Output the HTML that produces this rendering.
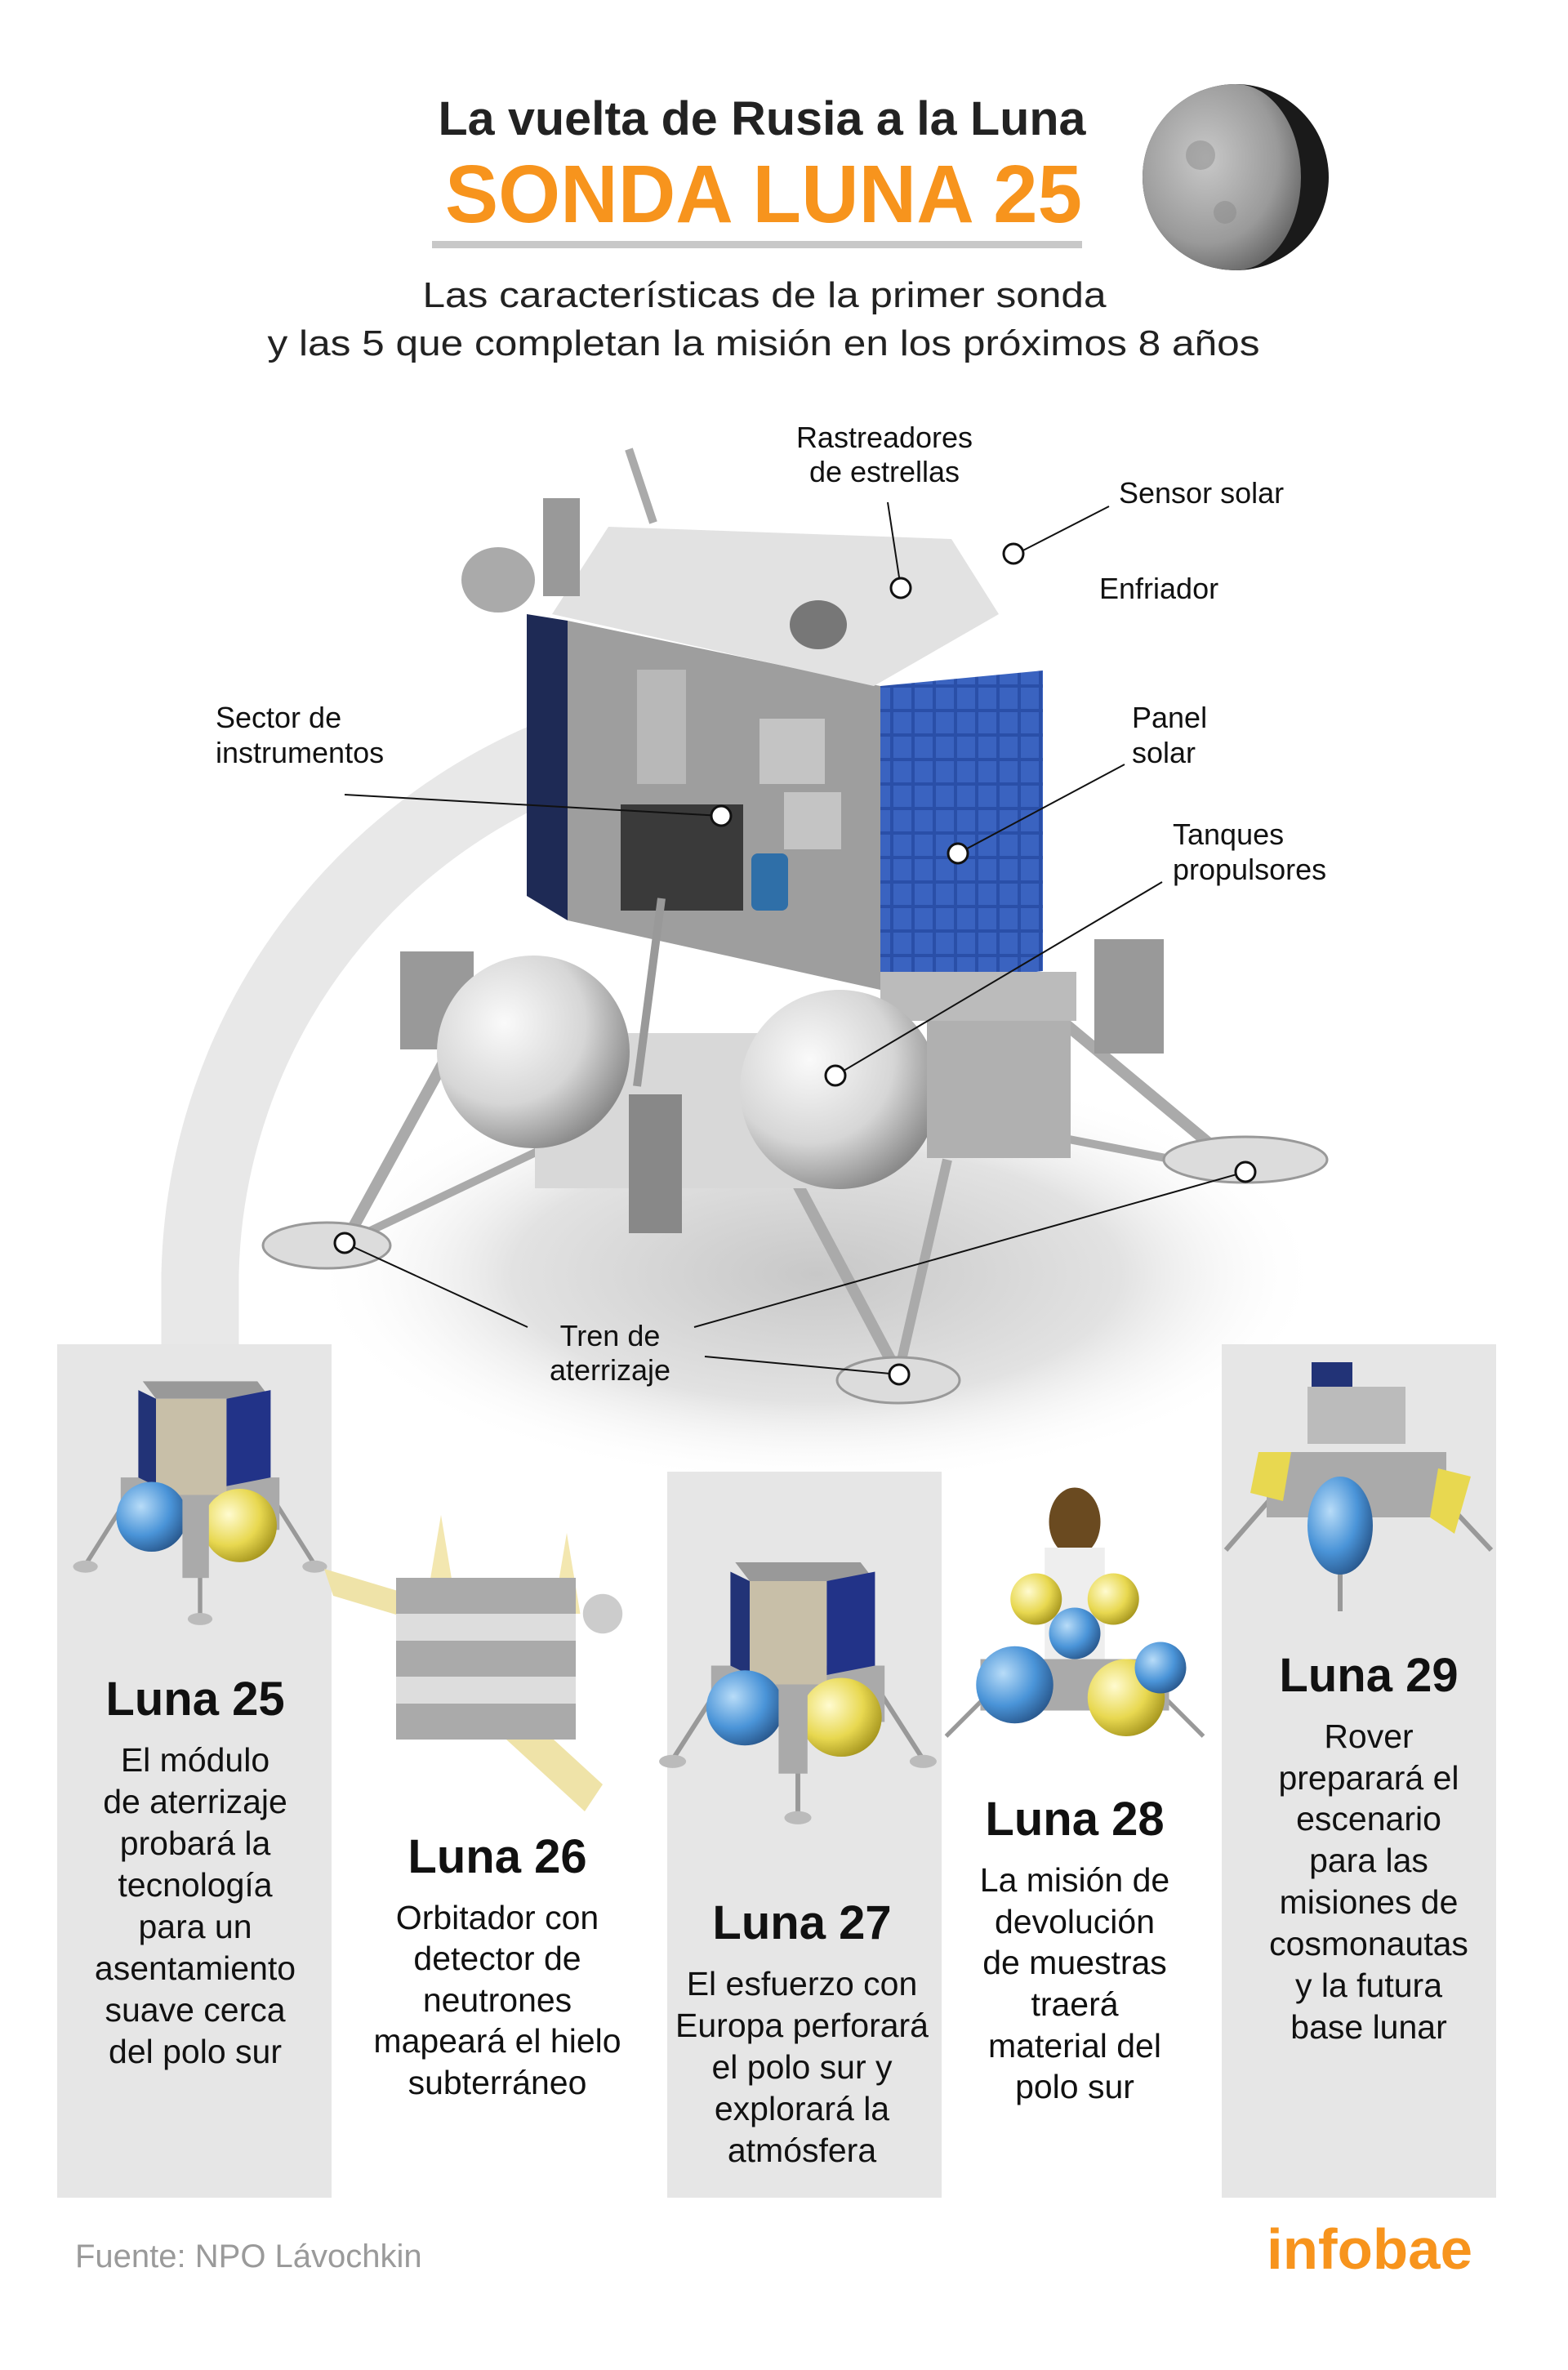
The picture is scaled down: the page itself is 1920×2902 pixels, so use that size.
<!DOCTYPE html>
<html><head><meta charset="utf-8"><style>
html,body{margin:0;padding:0;background:#fff}
svg{display:block}
text{font-family:"Liberation Sans",sans-serif}
</style></head><body>
<svg width="1920" height="2902" viewBox="0 0 1920 2902" xmlns="http://www.w3.org/2000/svg">
<defs>
<radialGradient id="shadow" cx="50%" cy="50%" r="50%">
<stop offset="0" stop-color="#c8c8c8"/><stop offset="0.6" stop-color="#e2e2e2"/><stop offset="1" stop-color="#fff" stop-opacity="0"/></radialGradient>
<radialGradient id="sph" cx="35%" cy="35%" r="70%"><stop offset="0" stop-color="#fafafa"/><stop offset="0.6" stop-color="#d6d6d6"/><stop offset="1" stop-color="#8a8a8a"/></radialGradient>
<radialGradient id="bsph" cx="35%" cy="35%" r="70%"><stop offset="0" stop-color="#b8dcf8"/><stop offset="0.6" stop-color="#4a94d8"/><stop offset="1" stop-color="#2a5a90"/></radialGradient>
<radialGradient id="ysph" cx="35%" cy="35%" r="70%"><stop offset="0" stop-color="#fffbd0"/><stop offset="0.6" stop-color="#e8d850"/><stop offset="1" stop-color="#a89820"/></radialGradient>
<radialGradient id="moon" cx="40%" cy="40%" r="65%"><stop offset="0" stop-color="#c8c8c8"/><stop offset="0.7" stop-color="#9a9a9a"/><stop offset="1" stop-color="#6a6a6a"/></radialGradient>
<linearGradient id="arcfade" x1="0" y1="0" x2="1" y2="0"><stop offset="0" stop-color="#e6e6e6"/><stop offset="1" stop-color="#eeeeee"/></linearGradient>
<pattern id="cells" width="26" height="30" patternUnits="userSpaceOnUse"><rect width="26" height="30" fill="#2a4fa8"/><rect x="2" y="2" width="22" height="26" fill="#3a63c0"/></pattern>
<g id="mini">
 <line x1="20" y1="230" x2="70" y2="150" stroke="#999" stroke-width="5"/>
 <line x1="280" y1="230" x2="230" y2="150" stroke="#999" stroke-width="5"/>
 <line x1="150" y1="290" x2="150" y2="200" stroke="#999" stroke-width="5"/>
 <ellipse cx="20" cy="232" rx="14" ry="7" fill="#bbb"/><ellipse cx="280" cy="232" rx="14" ry="7" fill="#bbb"/><ellipse cx="150" cy="292" rx="14" ry="7" fill="#bbb"/>
 <rect x="60" y="130" width="180" height="60" fill="#aaa"/>
 <polygon points="85,20 215,20 230,40 100,40" fill="#999"/>
 <rect x="100" y="40" width="80" height="110" fill="#c8bfa8"/>
 <polygon points="80,30 100,40 100,140 80,130" fill="#223377"/>
 <polygon points="180,40 230,30 230,130 180,140" fill="#223388"/>
 <circle cx="95" cy="175" r="40" fill="url(#bsph)"/>
 <circle cx="195" cy="185" r="42" fill="url(#ysph)"/>
 <rect x="130" y="150" width="30" height="95" fill="#aaa"/>
</g>
</defs>

<!-- arc (left part only) -->
<path d="M 245 1646 L 245 1560 A 700 700 0 0 1 760 900" fill="none" stroke="#e8e8e8" stroke-width="95"/>
<ellipse cx="1000" cy="1560" rx="620" ry="260" fill="url(#shadow)"/>

<!-- panels -->
<rect x="70" y="1646" width="336" height="1045" fill="#e6e6e6"/>
<rect x="817" y="1802" width="336" height="889" fill="#e6e6e6"/>
<rect x="1496" y="1646" width="336" height="1045" fill="#e6e6e6"/>

<!-- title -->
<text x="933" y="165" text-anchor="middle" font-size="58" font-weight="bold" fill="#222" textLength="793" lengthAdjust="spacingAndGlyphs">La vuelta de Rusia a la Luna</text>
<text x="935" y="272" text-anchor="middle" font-size="100" font-weight="bold" fill="#f7941d" textLength="780" lengthAdjust="spacingAndGlyphs">SONDA LUNA 25</text>
<rect x="529" y="295" width="796" height="9" fill="#c8c8c8"/>
<circle cx="1513" cy="217" r="114" fill="#1a1a1a"/>
<path d="M 1513 103 A 114 114 0 0 0 1513 331 A 80 114 0 0 0 1513 103 Z" fill="url(#moon)"/>
<circle cx="1470" cy="190" r="18" fill="#8a8a8a" opacity=".5"/><circle cx="1500" cy="260" r="14" fill="#8a8a8a" opacity=".5"/>
<text x="936" y="376" text-anchor="middle" font-size="44" fill="#222" textLength="837" lengthAdjust="spacingAndGlyphs">Las características de la primer sonda</text>
<text x="935" y="435" text-anchor="middle" font-size="44" fill="#222" textLength="1215" lengthAdjust="spacingAndGlyphs">y las 5 que completan la misión en los próximos 8 años</text>

<!-- lander -->
<g>
 <line x1="1300" y1="1250" x2="1525" y2="1437" stroke="#aaa" stroke-width="14"/>
 <line x1="1180" y1="1370" x2="1525" y2="1437" stroke="#aaa" stroke-width="10"/>
 <ellipse cx="1525" cy="1420" rx="100" ry="28" fill="#dcdcdc" stroke="#999" stroke-width="3"/>
 <line x1="560" y1="1270" x2="422" y2="1522" stroke="#aaa" stroke-width="14"/>
 <line x1="700" y1="1390" x2="422" y2="1522" stroke="#aaa" stroke-width="10"/>
 <ellipse cx="400" cy="1525" rx="78" ry="28" fill="#dcdcdc" stroke="#999" stroke-width="3"/>
 <line x1="950" y1="1400" x2="1100" y2="1683" stroke="#aaa" stroke-width="14"/>
 <line x1="1160" y1="1420" x2="1100" y2="1683" stroke="#aaa" stroke-width="12"/>
 <ellipse cx="1100" cy="1690" rx="75" ry="28" fill="#dcdcdc" stroke="#999" stroke-width="3"/>
 <rect x="490" y="1165" width="90" height="120" fill="#999"/>
 <rect x="1340" y="1150" width="85" height="140" fill="#999"/>
 <polygon points="645,752 695,760 695,1127 645,1097" fill="#1e2a55"/>
 <polygon points="695,760 1078,840 1078,1212 695,1127" fill="#9e9e9e"/>
 <rect x="760" y="985" width="150" height="130" fill="#3a3a3a"/>
 <rect x="930" y="880" width="80" height="80" fill="#c4c4c4"/>
 <rect x="960" y="970" width="70" height="70" fill="#c4c4c4"/>
 <rect x="920" y="1045" width="45" height="70" rx="8" fill="#2f6fa8"/>
 <rect x="780" y="820" width="60" height="140" fill="#b8b8b8"/>
 <polygon points="676,752 745,645 1165,660 1223,752 1070,840" fill="#e2e2e2"/>
 <ellipse cx="1002" cy="765" rx="35" ry="30" fill="#777"/>
 <polygon points="1078,840 1277,821 1277,1189 1078,1212" fill="url(#cells)"/>
 <rect x="1078" y="1190" width="240" height="60" fill="#bbb"/>
 <ellipse cx="610" cy="710" rx="45" ry="40" fill="#aaa"/>
 <rect x="665" y="610" width="45" height="120" fill="#999"/>
 <line x1="770" y1="550" x2="800" y2="640" stroke="#aaa" stroke-width="10"/>
 <rect x="655" y="1265" width="370" height="190" fill="#d8d8d8"/>
 <circle cx="653" cy="1288" r="118" fill="url(#sph)"/>
 <circle cx="1028" cy="1334" r="122" fill="url(#sph)"/>
 <rect x="1135" y="1250" width="176" height="168" fill="#b0b0b0"/>
 <rect x="770" y="1340" width="65" height="170" fill="#888"/>
 <line x1="810" y1="1100" x2="780" y2="1330" stroke="#999" stroke-width="10"/>
</g>

<g stroke="#111" stroke-width="2" fill="none">
 <line x1="1087" y1="615" x2="1103" y2="720"/>
 <line x1="1358" y1="620" x2="1241" y2="680"/>
 <line x1="422" y1="973" x2="883" y2="999"/>
 <line x1="1377" y1="936" x2="1173" y2="1045"/>
 <line x1="1423" y1="1080" x2="1023" y2="1317"/>
 <line x1="646" y1="1625" x2="422" y2="1522"/>
 <line x1="850" y1="1625" x2="1525" y2="1435"/>
 <line x1="863" y1="1661" x2="1101" y2="1683"/>
</g>
<g fill="#fff" stroke="#111" stroke-width="3">
 <circle cx="1103" cy="720" r="12"/><circle cx="1241" cy="678" r="12"/><circle cx="883" cy="999" r="12"/>
 <circle cx="1173" cy="1045" r="12"/><circle cx="1023" cy="1317" r="12"/><circle cx="422" cy="1522" r="12"/>
 <circle cx="1525" cy="1435" r="12"/><circle cx="1101" cy="1683" r="12"/>
</g>
<g font-size="36" fill="#111">
 <text x="1083" y="548" text-anchor="middle">Rastreadores</text>
 <text x="1083" y="590" text-anchor="middle">de estrellas</text>
 <text x="1370" y="616">Sensor solar</text>
 <text x="1346" y="733">Enfriador</text>
 <text x="264" y="891">Sector de</text>
 <text x="264" y="934">instrumentos</text>
 <text x="1386" y="891">Panel</text>
 <text x="1386" y="934">solar</text>
 <text x="1436" y="1034">Tanques</text>
 <text x="1436" y="1077">propulsores</text>
 <text x="747" y="1648" text-anchor="middle">Tren de</text>
 <text x="747" y="1690" text-anchor="middle">aterrizaje</text>
</g>

<!-- mini craft -->
<use href="#mini" transform="translate(83,1670) scale(1.08,1.07)"/>
<g transform="translate(606,2020) scale(1.1)">
 <polygon points="-190,-90 -90,-60 -80,-30 -180,-60" fill="#efe3a8"/>
 <polygon points="0,40 120,150 100,180 -20,70" fill="#efe3a8"/>
 <polygon points="-60,-150 -45,-60 -75,-60" fill="#f3e7b0"/>
 <polygon points="80,-130 95,-40 65,-40" fill="#f3e7b0"/>
 <rect x="-110" y="-80" width="200" height="180" fill="#aaa"/>
 <rect x="-110" y="-40" width="200" height="30" fill="#ddd"/>
 <rect x="-110" y="30" width="200" height="30" fill="#ddd"/>
 <circle cx="120" cy="-40" r="22" fill="#ccc"/>
</g>
<use href="#mini" transform="translate(800,1890) scale(1.18,1.15)"/>
<g transform="translate(1316,2000) scale(1.05)">
 <ellipse cx="0" cy="-130" rx="30" ry="40" fill="#6a4a20"/>
 <rect x="-35" y="-100" width="70" height="160" fill="#eee"/>
 <circle cx="-45" cy="-40" r="30" fill="url(#ysph)"/><circle cx="45" cy="-40" r="30" fill="url(#ysph)"/>
 <circle cx="0" cy="0" r="30" fill="url(#bsph)"/>
 <line x1="-150" y1="120" x2="-80" y2="50" stroke="#999" stroke-width="5"/>
 <line x1="150" y1="120" x2="80" y2="50" stroke="#999" stroke-width="5"/>
 <rect x="-110" y="30" width="220" height="60" fill="#aaa"/>
 <circle cx="-70" cy="60" r="45" fill="url(#bsph)"/>
 <circle cx="60" cy="75" r="45" fill="url(#ysph)"/>
 <circle cx="100" cy="40" r="30" fill="url(#bsph)"/>
</g>
<g transform="translate(1661,1818)">
 <line x1="-160" y1="80" x2="-90" y2="0" stroke="#999" stroke-width="6"/>
 <line x1="165" y1="80" x2="90" y2="0" stroke="#999" stroke-width="6"/>
 <line x1="-20" y1="155" x2="-20" y2="40" stroke="#999" stroke-width="6"/>
 <rect x="-110" y="-40" width="220" height="80" fill="#aaa"/>
 <rect x="-60" y="-120" width="120" height="70" fill="#bbb"/>
 <rect x="-55" y="-150" width="50" height="30" fill="#223377"/>
 <polygon points="-120,-40 -80,-40 -90,20 -130,10" fill="#e8d850"/>
 <polygon points="100,-20 140,-10 120,60 90,40" fill="#e8d850"/>
 <ellipse cx="-20" cy="50" rx="40" ry="60" fill="url(#bsph)"/>
</g>

<g text-anchor="middle" fill="#111">
 <text x="239" y="2100" font-size="58" font-weight="bold">Luna 25</text>
 <g font-size="41"><text x="239" y="2169">El módulo</text><text x="239" y="2220">de aterrizaje</text><text x="239" y="2271">probará la</text><text x="239" y="2322">tecnología</text><text x="239" y="2373">para un</text><text x="239" y="2424">asentamiento</text><text x="239" y="2475">suave cerca</text><text x="239" y="2526">del polo sur</text></g>
 <text x="609" y="2293" font-size="58" font-weight="bold">Luna 26</text>
 <g font-size="41"><text x="609" y="2362">Orbitador con</text><text x="609" y="2412">detector de</text><text x="609" y="2463">neutrones</text><text x="609" y="2513">mapeará el hielo</text><text x="609" y="2564">subterráneo</text></g>
 <text x="982" y="2374" font-size="58" font-weight="bold">Luna 27</text>
 <g font-size="41"><text x="982" y="2443">El esfuerzo con</text><text x="982" y="2494">Europa perforará</text><text x="982" y="2545">el polo sur y</text><text x="982" y="2596">explorará la</text><text x="982" y="2647">atmósfera</text></g>
 <text x="1316" y="2247" font-size="58" font-weight="bold">Luna 28</text>
 <g font-size="41"><text x="1316" y="2316">La misión de</text><text x="1316" y="2367">devolución</text><text x="1316" y="2417">de muestras</text><text x="1316" y="2468">traerá</text><text x="1316" y="2519">material del</text><text x="1316" y="2569">polo sur</text></g>
 <text x="1676" y="2071" font-size="58" font-weight="bold">Luna 29</text>
 <g font-size="41"><text x="1676" y="2140">Rover</text><text x="1676" y="2191">preparará el</text><text x="1676" y="2241">escenario</text><text x="1676" y="2292">para las</text><text x="1676" y="2343">misiones de</text><text x="1676" y="2394">cosmonautas</text><text x="1676" y="2445">y la futura</text><text x="1676" y="2496">base lunar</text></g>
</g>

<text x="92" y="2776" font-size="40" fill="#9a9a9a">Fuente: NPO Lávochkin</text>
<text x="1551" y="2778" font-size="70" font-weight="bold" fill="#f7941d" textLength="252" lengthAdjust="spacingAndGlyphs">infobae</text>
</svg>
</body></html>
